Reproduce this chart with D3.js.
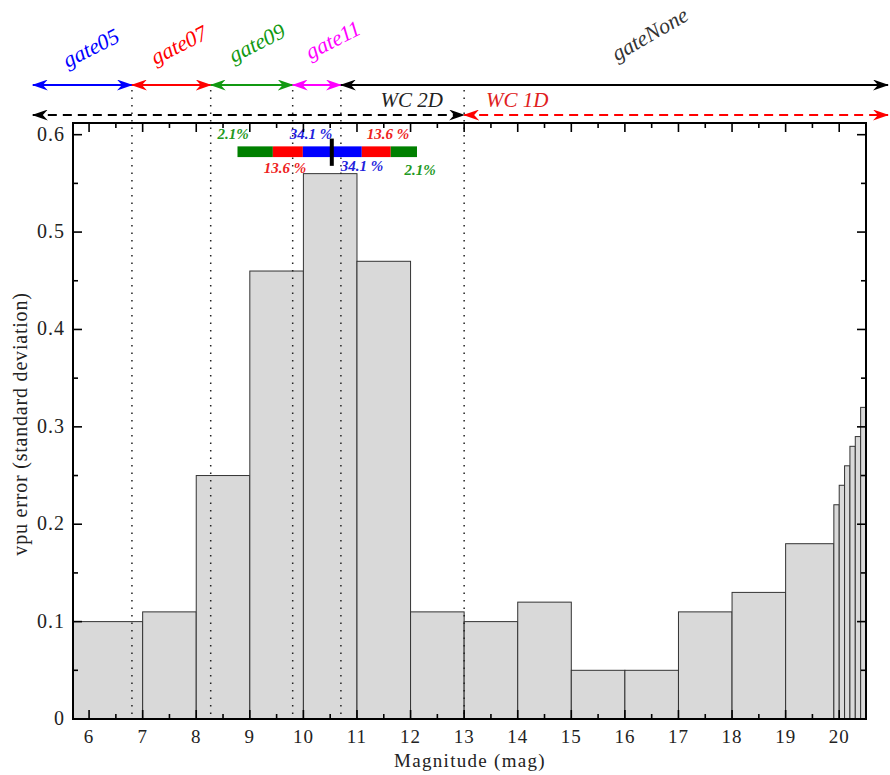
<!DOCTYPE html>
<html>
<head>
<meta charset="utf-8">
<script src="https://cdnjs.cloudflare.com/ajax/libs/d3/7.8.5/d3.min.js"></script>
<style>
  body { margin: 0; background: #fff; }
  svg { font-family: "Liberation Serif", "DejaVu Serif", serif; }
</style>
</head>
<body>
<svg width="890" height="775"></svg>
<script>
// histogram bins (mag) and values
const binEdges = [5.7, 7, 8, 9, 10, 11, 12, 13, 14, 15, 16, 17, 18, 19, 19.9, 20, 20.1, 20.2, 20.3, 20.4, 20.5];
const binValues = [0.10, 0.11, 0.25, 0.46, 0.56, 0.47, 0.11, 0.10, 0.12, 0.05, 0.05, 0.11, 0.13, 0.18, 0.22, 0.24, 0.26, 0.28, 0.29, 0.32];

// gate ranges
const gateNames = ['gate05', 'gate07', 'gate09', 'gate11', 'gateNone'];
const gateFrom = [4.95, 6.8, 8.27, 9.8, 10.7];
const gateTo = [6.8, 8.27, 9.8, 10.7, 20.91];
const gateColors = ['#0000ff', '#ff0000', '#119911', '#ff00ff', '#000000'];

// window centroiding ranges
const wcNames = ['WC 2D', 'WC 1D'];
const wcFrom = [4.95, 13];
const wcTo = [13, 20.91];
const wcColors = ['#000000', '#ff0000'];

// dotted boundaries
const boundaries = [6.8, 8.27, 9.8, 10.7, 13];

// sigma bar
const sigmaEdges = [8.77, 9.43, 9.99, 11.09, 11.63, 12.12];
const sigmaColors = ['#008000', '#ff0000', '#0000ff', '#ff0000', '#008000'];
const sigmaCenter = 10.53;
const sigmaTop = ['2.1%', '34.1 %', '13.6 %'];
const sigmaBottom = ['13.6 %', '34.1 %', '2.1%'];

const yTicks = [0, 0.1, 0.2, 0.3, 0.4, 0.5, 0.6];
const xTicks = [6, 7, 8, 9, 10, 11, 12, 13, 14, 15, 16, 17, 18, 19, 20];

const svg = d3.select('svg');
const margin = {left: 73, right: 24, top: 123, bottom: 56};
const W = 890, H = 775;

const x = d3.scaleLinear().domain([5.7, 20.5]).range([margin.left, W - margin.right]);
const y = d3.scaleLinear().domain([0, 0.612]).range([H - margin.bottom, margin.top]);

// arrow markers, one per colour (tip sits on the line end)
const defs = svg.append('defs');
const allColors = Array.from(new Set(gateColors.concat(wcColors)));
allColors.forEach((c, i) => {
  defs.append('marker')
    .attr('id', 'm' + i)
    .attr('viewBox', '0 0 16 11')
    .attr('refX', 15)
    .attr('refY', 5.5)
    .attr('markerWidth', 16)
    .attr('markerHeight', 11)
    .attr('markerUnits', 'userSpaceOnUse')
    .attr('orient', 'auto-start-reverse')
    .append('path')
      .attr('d', 'M0,0 L16,5.5 L0,11 L5,5.5 Z')
      .attr('fill', c);
});
const markerId = c => 'url(#m' + allColors.indexOf(c) + ')';

// bars
const bins = binValues.map((v, i) => ({x0: binEdges[i], x1: binEdges[i + 1], v}));
svg.append('g').selectAll('rect')
  .data(bins)
  .enter()
  .append('rect')
    .attr('x', d => x(d.x0))
    .attr('width', d => x(d.x1) - x(d.x0))
    .attr('y', d => y(d.v))
    .attr('height', d => y(0) - y(d.v))
    .attr('fill', '#d9d9d9')
    .attr('stroke', '#333')
    .attr('stroke-width', 1);

// dotted boundary lines
svg.append('g').selectAll('line')
  .data(boundaries)
  .enter()
  .append('line')
    .attr('x1', d => x(d)).attr('x2', d => x(d))
    .attr('y1', 90).attr('y2', y(0))
    .attr('stroke', '#222')
    .attr('stroke-width', 1.5)
    .attr('stroke-dasharray', '1.5,6');

// sigma bar
const sig = svg.append('g');
sigmaColors.forEach((c, i) => {
  sig.append('rect')
    .attr('x', x(sigmaEdges[i]))
    .attr('width', x(sigmaEdges[i + 1]) - x(sigmaEdges[i]))
    .attr('y', y(0.588))
    .attr('height', y(0.577) - y(0.588))
    .attr('fill', c);
});
sig.append('line')
  .attr('x1', x(sigmaCenter)).attr('x2', x(sigmaCenter))
  .attr('y1', y(0.596)).attr('y2', y(0.568))
  .attr('stroke', '#000').attr('stroke-width', 4);

const pctStyle = s => s.attr('font-style', 'italic').attr('font-weight', 'bold').attr('font-size', 15);
const topCols = ['#229922', '#2222dd', '#ee2222'];
const topX = [233, 311, 388];
sigmaTop.forEach((t, i) => {
  sig.append('text').text(t)
    .attr('x', topX[i]).attr('y', 139)
    .attr('text-anchor', 'middle')
    .attr('fill', topCols[i])
    .call(pctStyle);
});
const botCols = ['#ee2222', '#2222dd', '#229922'];
const botX = [285, 362, 420];
const botY = [173, 171, 175];
sigmaBottom.forEach((t, i) => {
  sig.append('text').text(t)
    .attr('x', botX[i]).attr('y', botY[i])
    .attr('text-anchor', 'middle')
    .attr('fill', botCols[i])
    .call(pctStyle);
});

// axes frame
svg.append('rect')
  .attr('x', x(5.7)).attr('y', y(0.612))
  .attr('width', x(20.5) - x(5.7))
  .attr('height', y(0) - y(0.612))
  .attr('fill', 'none')
  .attr('stroke', '#000')
  .attr('stroke-width', 2);

const xMinor = d3.range(6.5, 20.5, 1);
const yMinor = d3.range(0.05, 0.61, 0.1);
const tickG = svg.append('g').attr('stroke', '#000').attr('stroke-width', 1.6);
xTicks.forEach(t => {
  tickG.append('line').attr('x1', x(t)).attr('x2', x(t)).attr('y1', y(0)).attr('y2', y(0) - 9);
  tickG.append('line').attr('x1', x(t)).attr('x2', x(t)).attr('y1', y(0.612)).attr('y2', y(0.612) + 9);
});
xMinor.forEach(t => {
  tickG.append('line').attr('x1', x(t)).attr('x2', x(t)).attr('y1', y(0)).attr('y2', y(0) - 5);
  tickG.append('line').attr('x1', x(t)).attr('x2', x(t)).attr('y1', y(0.612)).attr('y2', y(0.612) + 5);
});
yTicks.forEach(t => {
  tickG.append('line').attr('x1', x(5.7)).attr('x2', x(5.7) + 9).attr('y1', y(t)).attr('y2', y(t));
  tickG.append('line').attr('x1', x(20.5)).attr('x2', x(20.5) - 9).attr('y1', y(t)).attr('y2', y(t));
});
yMinor.forEach(t => {
  tickG.append('line').attr('x1', x(5.7)).attr('x2', x(5.7) + 5).attr('y1', y(t)).attr('y2', y(t));
  tickG.append('line').attr('x1', x(20.5)).attr('x2', x(20.5) - 5).attr('y1', y(t)).attr('y2', y(t));
});

// tick labels
svg.append('g').selectAll('text')
  .data(xTicks)
  .enter()
  .append('text')
    .attr('x', d => x(d))
    .attr('y', y(0) + 24)
    .attr('text-anchor', 'middle')
    .attr('font-size', 19)
    .attr('letter-spacing', 1)
    .attr('fill', '#222')
    .text(d => d);
svg.append('g').selectAll('text')
  .data(yTicks)
  .enter()
  .append('text')
    .attr('x', x(5.7) - 8)
    .attr('y', d => y(d) + 6)
    .attr('text-anchor', 'end')
    .attr('font-size', 20)
    .attr('letter-spacing', 1)
    .attr('fill', '#222')
    .text(d => d === 0 ? '0' : d3.format('.1f')(d));

// axis titles
svg.append('text')
  .attr('x', 470).attr('y', 767)
  .attr('text-anchor', 'middle')
  .attr('font-size', 19)
  .attr('letter-spacing', 1.3)
  .attr('fill', '#222')
  .text('Magnitude (mag)');
svg.append('text')
  .attr('transform', 'translate(27,' + 424 + ') rotate(-90)')
  .attr('text-anchor', 'middle')
  .attr('font-size', 20)
  .attr('letter-spacing', 0.8)
  .attr('fill', '#222')
  .text('vpu error (standard deviation)');

// gate arrows
const gateY = 85;
gateNames.forEach((n, i) => {
  svg.append('line')
    .attr('x1', x(gateFrom[i])).attr('x2', x(gateTo[i]))
    .attr('y1', gateY).attr('y2', gateY)
    .attr('stroke', gateColors[i])
    .attr('stroke-width', 2)
    .attr('marker-start', markerId(gateColors[i]))
    .attr('marker-end', markerId(gateColors[i]));
});
const gateLabelPos = [[92, 50, -27], [180, 47, -27], [258, 45, -27], [334, 42, -27], [651, 36, -30]];
gateNames.forEach((n, i) => {
  const p = gateLabelPos[i];
  svg.append('text')
    .attr('transform', 'translate(' + p[0] + ',' + p[1] + ') rotate(' + p[2] + ')')
    .attr('text-anchor', 'middle')
    .attr('dominant-baseline', 'middle')
    .attr('font-style', 'italic')
    .attr('font-size', 22)
    .attr('fill', i == 4 ? '#333' : gateColors[i])
    .text(n);
});

// window centroid arrows (dashed)
const wcY = 115;
wcNames.forEach((n, i) => {
  svg.append('line')
    .attr('x1', x(wcFrom[i])).attr('x2', x(wcTo[i]))
    .attr('y1', wcY).attr('y2', wcY)
    .attr('stroke', wcColors[i])
    .attr('stroke-width', 2)
    .attr('stroke-dasharray', '9,6')
    .attr('marker-start', markerId(wcColors[i]))
    .attr('marker-end', markerId(wcColors[i]));
});
svg.append('text')
  .attr('x', 443).attr('y', 107)
  .attr('text-anchor', 'end')
  .attr('font-style', 'italic')
  .attr('font-size', 21)
  .attr('fill', '#222')
  .text(wcNames[0]);
svg.append('text')
  .attr('x', 486).attr('y', 107)
  .attr('font-style', 'italic')
  .attr('font-size', 21)
  .attr('fill', '#e02020')
  .text(wcNames[1]);
</script>
</body>
</html>
